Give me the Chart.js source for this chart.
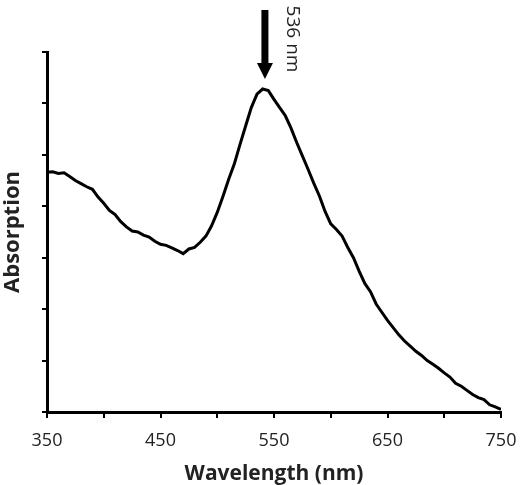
<!DOCTYPE html>
<html>
<head>
<meta charset="utf-8">
<script src="https://cdn.jsdelivr.net/npm/chart.js@4"></script>
<style>
  html, body { margin: 0; padding: 0; background: #fff; }
  #wrap { width: 531px; height: 485px; }
</style>
</head>
<body>
<div id="wrap"><canvas id="myChart"></canvas></div>
<script>
// wavelength (nm), step 5
var wavelengths = [350, 355, 360, 365, 370, 375, 380, 385, 390, 395,
    400, 405, 410, 415, 420, 425, 430, 435, 440, 445,
    450, 455, 460, 465, 470, 475, 480, 485, 490, 495,
    500, 505, 510, 515, 520, 525, 530, 535, 540, 545,
    550, 555, 560, 565, 570, 575, 580, 585, 590, 595,
    600, 605, 610, 615, 620, 625, 630, 635, 640, 645,
    650, 655, 660, 665, 670, 675, 680, 685, 690, 695,
    700, 705, 710, 715, 720, 725, 730, 735, 740, 745, 750];

// absorption (arbitrary units)
var absorption = [4.66, 4.67, 4.64, 4.65, 4.58, 4.50, 4.44, 4.38, 4.33, 4.18,
    4.06, 3.92, 3.84, 3.70, 3.60, 3.52, 3.50, 3.44, 3.40, 3.32,
    3.26, 3.24, 3.19, 3.14, 3.08, 3.17, 3.20, 3.30, 3.42, 3.62,
    3.88, 4.19, 4.52, 4.82, 5.20, 5.56, 5.92, 6.18, 6.28, 6.25,
    6.08, 5.92, 5.76, 5.52, 5.24, 4.98, 4.72, 4.45, 4.20, 3.90,
    3.66, 3.55, 3.42, 3.20, 3.00, 2.74, 2.50, 2.34, 2.10, 1.94,
    1.78, 1.64, 1.50, 1.38, 1.28, 1.18, 1.10, 1.00, 0.93, 0.85,
    0.76, 0.68, 0.56, 0.50, 0.42, 0.34, 0.28, 0.24, 0.14, 0.10, 0.05];

var xTicks = [350, 450, 550, 650, 750];
var peakLabel = '536 nm';
var arrowAt = 542;

var points = wavelengths.map(function (w, i) { return { x: w, y: absorption[i] }; });

// arrow + rotated label above the peak
var peakArrow = {
    id: 'peakArrow',
    afterDraw: function (chart) {
        var c = chart.ctx;
        var x = chart.scales.x.getPixelForValue(arrowAt);
        c.save();
        c.fillStyle = '#000';
        c.fillRect(x - 3.5, 10, 7, 54);
        c.beginPath();
        c.moveTo(x - 8, 63);
        c.lineTo(x + 8, 63);
        c.lineTo(x, 79);
        c.closePath();
        c.fill();
        c.translate(x + 27, 39);
        c.rotate(Math.PI / 2);
        c.font = '19px "Open Sans"';
        c.fillStyle = '#222';
        c.textAlign = 'center';
        c.textBaseline = 'middle';
        c.fillText(peakLabel, 0, 0);
        c.restore();
    }
};

var ctx = document.getElementById('myChart').getContext('2d');
var chart = new Chart(ctx, {
    type: 'line',
    data: {
        datasets: [{
            data: points,
            borderColor: '#000',
            borderWidth: 3,
            pointRadius: 0,
            fill: false,
            tension: 0
        }]
    },
    options: {
        responsive: true,
        maintainAspectRatio: false,
        animation: false,
        layout: { padding: { top: 52, right: 30, left: 0, bottom: 0 } },
        plugins: { legend: { display: false }, tooltip: { enabled: false } },
        scales: {
            x: {
                type: 'linear',
                min: 350,
                max: 750,
                border: { color: '#000', width: 3 },
                grid: { drawOnChartArea: false, color: '#000', lineWidth: 2, tickLength: 6 },
                ticks: {
                    stepSize: 50,
                    color: '#222',
                    font: { family: 'Open Sans', size: 18 },
                    padding: 12,
                    maxRotation: 0,
                    autoSkip: false,
                    callback: function (v) { return xTicks.indexOf(v) >= 0 ? String(v) : ''; }
                },
                title: {
                    display: true,
                    text: 'Wavelength (nm)',
                    color: '#222',
                    font: { family: 'Open Sans', size: 21, weight: 'bold' },
                    padding: { top: 0, bottom: -2 }
                },
                afterFit: function (s) { s.height = 73; }
            },
            y: {
                min: 0,
                max: 7,
                border: { color: '#000', width: 3 },
                grid: { drawOnChartArea: false, color: '#000', lineWidth: 2, tickLength: 5 },
                ticks: { stepSize: 1, display: false },
                title: {
                    display: true,
                    text: 'Absorption',
                    color: '#222',
                    font: { family: 'Open Sans', size: 22, weight: 'bold' },
                    padding: 0
                },
                afterFit: function (s) { s.width = 47; }
            }
        }
    },
    plugins: [peakArrow]
});
</script>
</body>
</html>
